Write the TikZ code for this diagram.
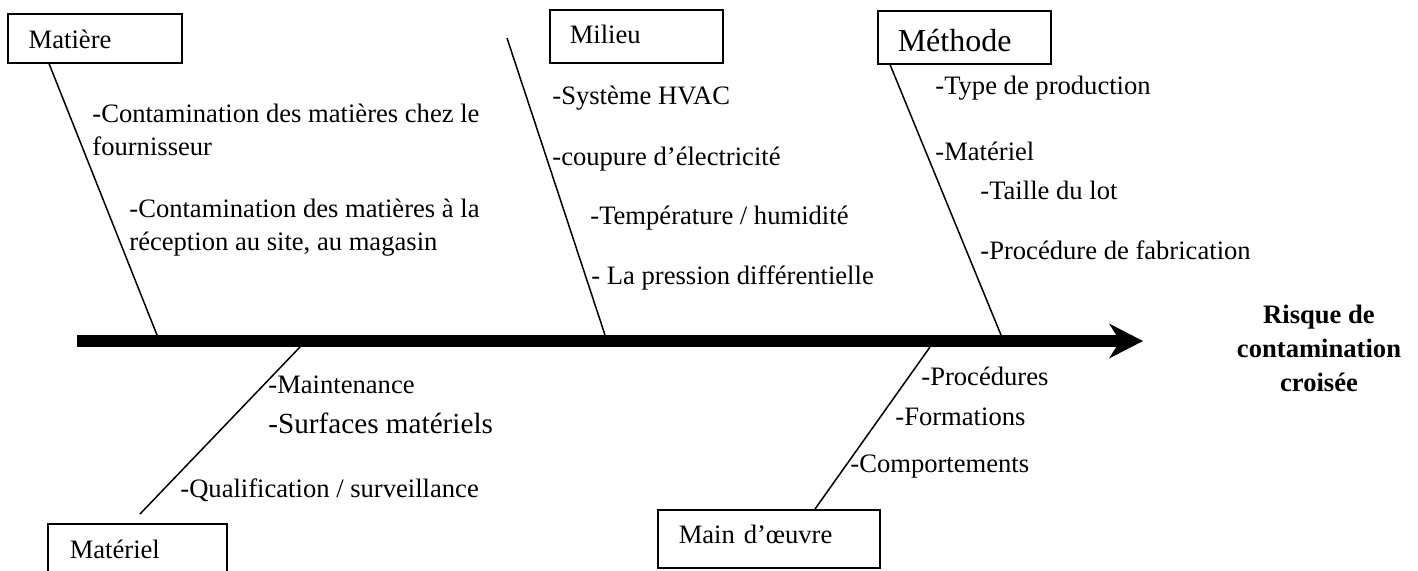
\documentclass[tikz,border=0pt]{standalone}
\usepackage{fontspec}
\setmainfont{Liberation Serif}
\usetikzlibrary{arrows.meta,calc}
\begin{document}
\begin{tikzpicture}[x=0.5pt,y=-0.5pt,
  every node/.style={inner sep=0pt, font=\fontsize{13.3}{16}\selectfont},
  item/.style={anchor=base west},
  bigitem/.style={anchor=base west, font=\fontsize{14.6}{17}\selectfont},
  effect/.style={anchor=base, font=\fontsize{13.3}{16}\selectfont\bfseries},
  box/.style={draw, line width=0.75pt, anchor=north west, align=left, inner ysep=0pt},
  branch/.style={line width=0.75pt},
  spine/.style={line width=6pt, -{Stealth[length=17pt,width=17.5pt,inset=5.5pt,line width=0pt]}}]
\useasboundingbox (0,0) rectangle (1418,570);

% category boxes
\node[box, inner xsep=10.5pt, text width=66pt, text height=17.5pt, text depth=7pt] (matiere) at (7,13) {Matière};
\node[box, inner xsep=10pt, text width=66.5pt, text height=17pt, text depth=9.5pt] (milieu) at (549,9) {Milieu};
\node[box, inner xsep=10pt, text width=66.5pt, text height=20.5pt, text depth=6pt, font=\fontsize{16}{19}\selectfont] (methode) at (877,10) {Méthode};
\node[box, inner xsep=11pt, text width=67.5pt, text height=17.5pt, text depth=25pt] (materiel) at (47,523) {Matériel};
\node[box, inner xsep=10.5pt, text width=90pt, text height=17pt, text depth=12pt] (mainoeuvre) at (657,509) {Main d’œuvre};

% spine
\coordinate (tail) at (77,341);
\coordinate (head) at (1143,341);
\draw[spine] (tail) -- (head);

% points where the branches meet the spine
\coordinate (jmatiere) at (157,335);
\coordinate (jmilieu) at (605,335);
\coordinate (jmethode) at (1001,335);
\coordinate (jmateriel) at (300,347);
\coordinate (jmain) at (930,347);
\coordinate (milieutop) at (507,38);
\coordinate (materielend) at (140,514);

% branches
\draw[branch] ($(matiere.south west)+(42,0)$) -- (jmatiere);
\draw[branch] (milieutop) -- (jmilieu);
\draw[branch] ($(methode.south west)+(13,0)$) -- (jmethode);
\draw[branch] (materielend) -- (jmateriel);
\draw[branch] ($(mainoeuvre.north west)+(158,0)$) -- (jmain);

% causes: Matière
\node[item] (c1) at (92,122) {-Contamination des matières chez le};
\node[item] (c2) at (92,155) {fournisseur};
\node[item] (c3) at (129,217) {-Contamination des matières à la};
\node[item] (c4) at (129,250) {réception au site, au magasin};

% causes: Milieu
\node[item] (e1) at (552,104) {-Système HVAC};
\node[item] (e2) at (552,165) {-coupure d’électricité};
\node[item] (e3) at (590,224) {-Température / humidité};
\node[item] (e4) at (591,284) {- La pression différentielle};

% causes: Méthode
\node[item] (m1) at (935,94) {-Type de production};
\node[item] (m2) at (935,160) {-Matériel};
\node[item] (m3) at (980,199) {-Taille du lot};
\node[item] (m4) at (980,259) {-Procédure de fabrication};

% causes: Matériel
\node[item] (q1) at (268,393) {-Maintenance};
\node[bigitem] (q2) at (268,433) {-Surfaces matériels};
\node[item] (q3) at (180,497) {-Qualification / surveillance};

% causes: Main d'œuvre
\node[item] (p1) at (921,385) {-Procédures};
\node[item] (p2) at (895,425) {-Formations};
\node[item] (p3) at (850,472) {-Comportements};

% effect
\node[effect] (r1) at (1319,323) {Risque de};
\node[effect] (r2) at (1319,357) {contamination};
\node[effect] (r3) at (1319,391) {croisée};
\end{tikzpicture}
\end{document}
